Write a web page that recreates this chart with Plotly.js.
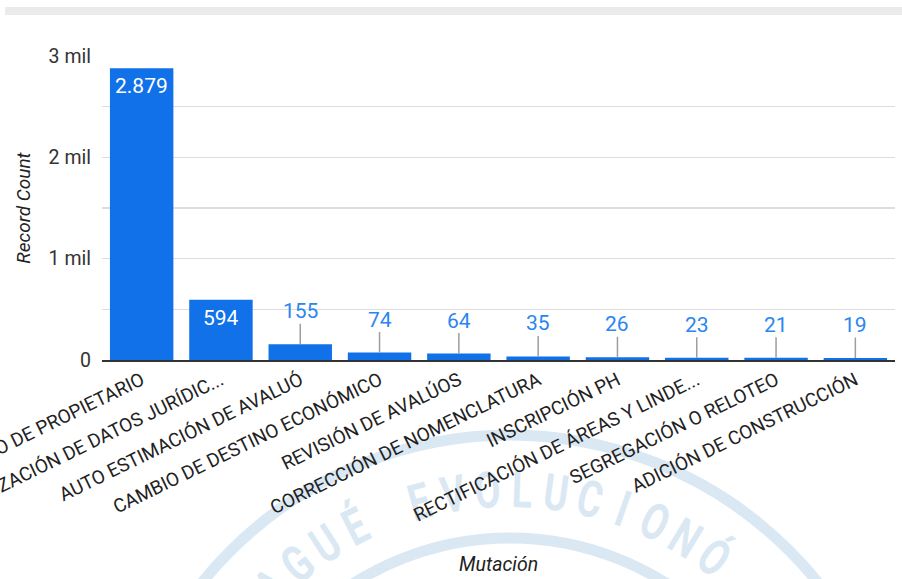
<!DOCTYPE html>
<html>
<head>
<meta charset="utf-8">
<script src="https://cdn.plot.ly/plotly-3.0.1.min.js"></script>
<style>
  html, body { margin:0; padding:0; background:#ffffff; }
  #wrap { position:relative; width:902px; height:579px; overflow:hidden; background:#ffffff; }
  #bg { position:absolute; left:0; top:0; width:902px; height:579px; }
  #topbar { position:absolute; left:5px; top:7px; width:897px; height:8px; background:#ebebeb; }
  #chart { position:absolute; left:0; top:0; width:902px; height:579px; }
</style>
</head>
<body>
<div id="wrap">
  <svg id="bg" xmlns="http://www.w3.org/2000/svg" width="902" height="579"></svg>
  <div id="topbar"></div>
  <div id="chart"></div>
</div>
<script>
// ---- data ----
const categories = [
  "CAMBIO DE PROPIETARIO",
  "ACTUALIZACIÓN DE DATOS JURÍDIC...",
  "AUTO ESTIMACIÓN DE AVALUÓ",
  "CAMBIO DE DESTINO ECONÓMICO",
  "REVISIÓN DE AVALÚOS",
  "CORRECCIÓN DE NOMENCLATURA",
  "INSCRIPCIÓN PH",
  "RECTIFICACIÓN DE ÁREAS Y LINDE...",
  "SEGREGACIÓN O RELOTEO",
  "ADICIÓN DE CONSTRUCCIÓN"
];
const recordCount = [2879, 594, 155, 74, 64, 35, 26, 23, 21, 19];
const yTickVals = [0, 1000, 2000, 3000];
const yTickText = ["0", "1 mil", "2 mil", "3 mil"];
const xTitle = "Mutación";
const yTitle = "Record Count";
const watermarkText = "IBAGUÉ EVOLUCIONÓ";

// ---- watermark (decorative background) ----
(function () {
  const svg = document.getElementById('bg');
  const ns = 'http://www.w3.org/2000/svg';
  const cx = 510, cy = 830, col = '#dae8f4';
  [395, 292].forEach(r => {
    const c = document.createElementNS(ns, 'circle');
    c.setAttribute('cx', cx); c.setAttribute('cy', cy); c.setAttribute('r', r);
    c.setAttribute('fill', 'none'); c.setAttribute('stroke', col); c.setAttribute('stroke-width', 11);
    svg.appendChild(c);
  });
  const chars = Array.from(watermarkText);
  chars.forEach((ch, i) => {
    if (ch === ' ') return;
    const a = -56 + i * 5.8;
    const rad = a * Math.PI / 180;
    const R = 340;
    const x = cx + R * Math.sin(rad), y = cy - R * Math.cos(rad);
    const t = document.createElementNS(ns, 'text');
    t.setAttribute('x', 0); t.setAttribute('y', 0);
    t.setAttribute('text-anchor', 'middle');
    t.setAttribute('dominant-baseline', 'central');
    t.setAttribute('transform', 'translate(' + x + ' ' + y + ') rotate(' + a + ') scale(0.85 1.15)');
    t.setAttribute('font-family', 'Roboto, sans-serif');
    t.setAttribute('font-weight', '700');
    t.setAttribute('font-size', '44');
    t.setAttribute('fill', col);
    t.textContent = ch;
    svg.appendChild(t);
  });
})();

// ---- chart ----
function fmt(v) {
  return String(v).replace(/\B(?=(\d{3})+(?!\d))/g, '.');
}
const barColor = '#1171e8';
const outColor = '#2a86f0';
const insideThreshold = 300;

const annotations = [];
categories.forEach((c, i) => {
  const v = recordCount[i];
  if (v >= insideThreshold) {
    annotations.push({
      x: c, y: v, xref: 'x', yref: 'y',
      text: fmt(v), showarrow: false,
      yanchor: 'top', yshift: -4,
      font: {family: 'Roboto, sans-serif', size: 21, color: '#ffffff'}
    });
  } else {
    annotations.push({
      x: c, y: v, xref: 'x', yref: 'y',
      text: fmt(v), showarrow: true,
      arrowhead: 0, arrowwidth: 1.5, arrowcolor: '#9e9e9e',
      ax: 0, ay: -33, standoff: 0, borderpad: 0,
      font: {family: 'Roboto, sans-serif', size: 21, color: outColor}
    });
  }
});
// x-axis title
annotations.push({
  xref: 'paper', yref: 'paper', x: 0.5, y: -0.674,
  xanchor: 'center', yanchor: 'middle', showarrow: false,
  text: xTitle,
  font: {family: 'Roboto, sans-serif', size: 19.5, color: '#222222', style: 'italic'}
});

const trace = {
  type: 'bar',
  x: categories,
  y: recordCount,
  marker: {color: barColor},
  hoverinfo: 'x+y'
};

const layout = {
  width: 902, height: 579,
  margin: {l: 102, r: 7, t: 56, b: 219},
  paper_bgcolor: 'rgba(0,0,0,0)',
  plot_bgcolor: 'rgba(0,0,0,0)',
  bargap: 0.2,
  showlegend: false,
  font: {family: 'Roboto, sans-serif', color: '#222222'},
  xaxis: {
    type: 'category',
    tickangle: -26,
    tickfont: {family: 'Roboto, sans-serif', size: 19, color: '#222222'},
    showline: true, linecolor: '#333333', linewidth: 2,
    showgrid: false, ticks: '',
    automargin: false
  },
  yaxis: {
    range: [0, 3000],
    tickvals: yTickVals, ticktext: yTickText,
    tickfont: {family: 'Roboto, sans-serif', size: 19.5, color: '#333333'},
    showgrid: true, gridcolor: '#dddddd', gridwidth: 1.5,
    minor: {dtick: 500, tick0: 0, showgrid: true, gridcolor: '#dddddd', gridwidth: 1.5},
    zeroline: false, ticks: '', ticklabelstandoff: 10,
    automargin: false,
    title: {text: yTitle, standoff: 12,
      font: {family: 'Roboto, sans-serif', size: 19, color: '#222222', style: 'italic'}}
  },
  annotations: annotations
};

Plotly.newPlot('chart', [trace], layout, {displayModeBar: false, staticPlot: true});
</script>
</body>
</html>
